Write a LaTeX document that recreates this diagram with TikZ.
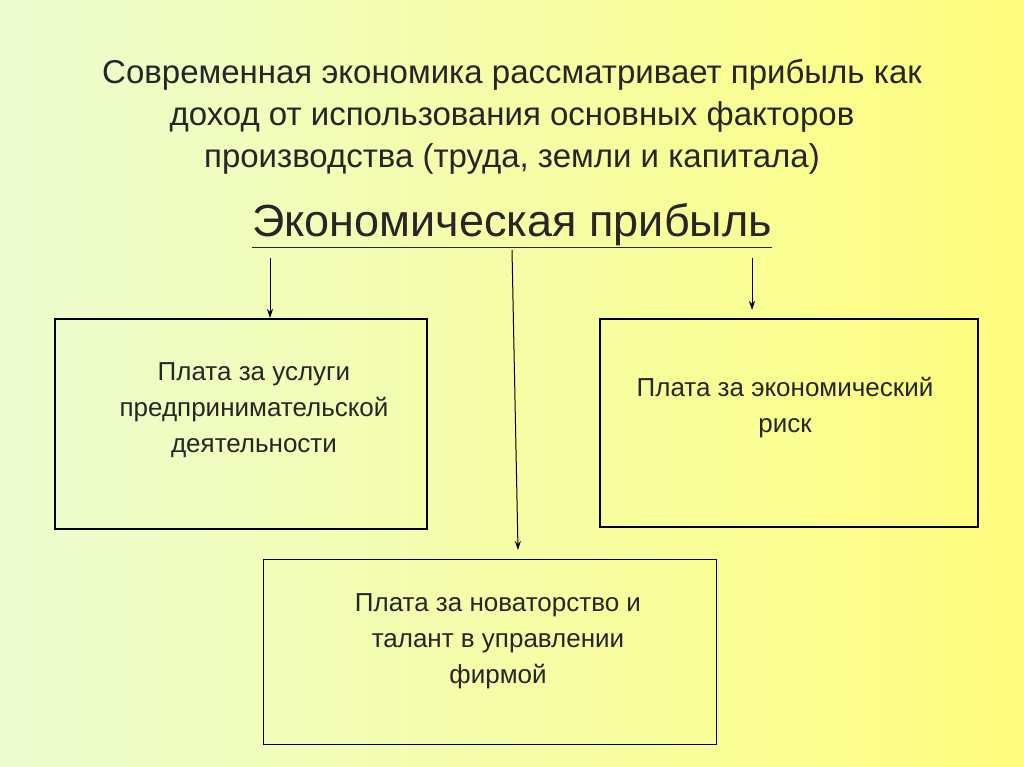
\documentclass[tikz,border=0pt]{standalone}
\usepackage{fontspec}
\setmainfont{Liberation Sans}
\usetikzlibrary{arrows.meta}
\begin{document}
\begin{tikzpicture}[x=1pt,y=-1pt,
  box/.style={draw=black,line width=1.2pt,fill=none},
  lbl/.style={align=center,font=\fontsize{26}{36}\selectfont,text=black!85},
  arr/.style={line width=1pt,-{Stealth[length=9pt,width=6pt]}}]
\useasboundingbox (0,0) rectangle (1024,767);
\shade[shading angle=115,left color=cyan!12!green!10!white, right color=yellow!55] (0,0) rectangle (1024,767);
\fill[yellow!40,opacity=0.3] (0,0) rectangle (1024,767);
\node[lbl,font=\fontsize{33}{42}\selectfont] (title) at (512,117) {Современная экономика рассматривает прибыль как\\доход от использования основных факторов\\производства (труда, земли и капитала)};
\node[font=\fontsize{45}{50}\selectfont,text=black!85] (head) at (512,226) {\underline{Экономическая прибыль}};
\node[box,minimum width=372pt,minimum height=210pt] (b1) at (241,424) {};
\node[lbl] at (254,410) {Плата за услуги\\предпринимательской\\деятельности};
\node[box,minimum width=378pt,minimum height=208pt] (b2) at (789,423) {};
\node[lbl] at (785,408) {Плата за экономический\\риск};
\node[box,minimum width=453pt,minimum height=185pt] (b3) at (490,652) {};
\node[lbl] at (498,641) {Плата за новаторство и\\талант в управлении\\фирмой};
\coordinate (s1) at (270,258); \coordinate (e1) at (270,318);
\coordinate (s2) at (512,250); \coordinate (e2) at (518,550);
\coordinate (s3) at (752,258); \coordinate (e3) at (752,310);
\draw[arr] (s1) -- (e1);
\draw[arr] (s2) -- (e2);
\draw[arr] (s3) -- (e3);
\end{tikzpicture}
\end{document}
